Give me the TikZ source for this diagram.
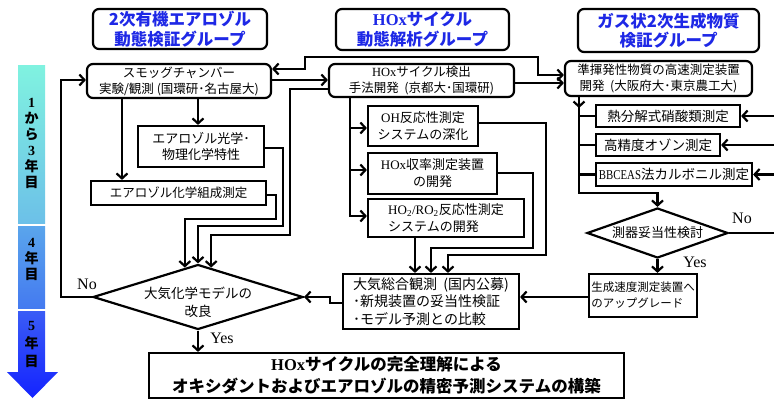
\documentclass[tikz,border=0pt]{standalone}
\usepackage{fontspec}
\setmainfont{Liberation Serif}
\newfontfamily\jp{Noto Sans CJK JP}
\usetikzlibrary{arrows.meta,shapes.geometric,calc}
\definecolor{hblue}{RGB}{30,40,230}
\newcommand\lat[1]{{\rmfamily #1}}
\tikzset{
  fs/.style 2 args={font=\jp\fontsize{#1}{#2}\selectfont},
  bfs/.style 2 args={font=\jp\bfseries\fontsize{#1}{#2}\selectfont},
  base/.style={inner sep=0pt, align=center, fs={12.5}{16}},
  hdr/.style={base, draw, rounded corners=6pt, line width=2.2pt, text=hblue, bfs={16.5}{19.5}},
  rbox/.style={base, draw, rounded corners=6pt, line width=2.2pt},
  sbox/.style={base, draw, line width=2.2pt},
  dia/.style={draw, diamond, line width=2.2pt, inner sep=0pt},
  ln/.style={line width=2.2pt},
  arr/.style={line width=2.2pt, -{Straight Barb[length=5pt,width=11pt]}},
  arrb/.style={line width=2.2pt, {Straight Barb[length=5pt,width=11pt]}-{Straight Barb[length=5pt,width=11pt]}},
  lbl/.style={inner sep=0pt, font=\rmfamily\fontsize{16}{18}\selectfont},
  yr/.style={inner sep=0pt, align=center, bfs={14}{16}},
}
\begin{document}
\begin{tikzpicture}[x=1pt,y=-1pt]
\fill[white] (0,0) rectangle (774,401);
\useasboundingbox (0,0) rectangle (774,401);

% time arrow
\shade[top color={rgb,255:red,128;green,242;blue,224}, bottom color={rgb,255:red,108;green,192;blue,232}] (18,66) rectangle (45,223);
\shade[top color={rgb,255:red,90;green,165;blue,236}, bottom color={rgb,255:red,68;green,122;blue,240}] (18,226) rectangle (45,308);
\shade[top color={rgb,255:red,58;green,92;blue,246}, bottom color={rgb,255:red,20;green,35;blue,255}] (18,311) -- (45,311) -- (45,372) -- (58,372) -- (32.5,398) -- (7,372) -- (18,372) -- cycle;
\node[yr] (t1) at (31.5,143) {\lat{1}\\か\\ら\\\lat{3}\\年\\目};
\node[yr] (t2) at (31.5,259) {\lat{4}\\年\\目};
\node[yr, bfs={14}{18}] (t3) at (31.5,344) {\lat{5}\\年\\目};

% headers
\node[hdr, minimum width=174pt, minimum height=40pt] (g1) at (180,29) {2次有機エアロゾル\\動態検証グループ};
\node[hdr, minimum width=173pt, minimum height=41pt] (g2) at (422.5,29.5) {\lat{HOx}サイクル\\動態解析グループ};
\node[hdr, minimum width=181pt, minimum height=43pt] (g3) at (668.5,30.5) {ガス状2次生成物質\\検証グループ};

% row 1
\node[rbox, minimum width=184pt, minimum height=34pt] (smog) at (179,81) {スモッグチャンバー\\実験/観測 (国環研･名古屋大)};
\node[rbox, minimum width=185pt, minimum height=33pt] (hox) at (421.5,80.5) {\lat{HOx}サイクル検出\\手法開発\ \ (京都大･国環研)};
\node[rbox, minimum width=187pt, minimum height=35pt] (svoc) at (658.5,78.5) {準揮発性物質の高速測定装置\\開発\ \ (大阪府大･東京農工大)};

% column 1
\node[sbox, fs={13}{16}, minimum width=126pt, minimum height=41pt] (opt) at (201,146.5) {エアロゾル光学･\\物理化学特性};
\node[sbox, minimum width=175pt, minimum height=24pt] (comp) at (178.5,193) {エアロゾル化学組成測定};

% column 2
\node[sbox, fs={13}{17}, minimum width=110pt, minimum height=40pt] (oh) at (423,126) {\lat{OH}反応性測定\\システムの深化};
\node[sbox, fs={13}{17}, minimum width=129pt, minimum height=41pt] (yld) at (432.5,173.5) {\lat{HOx}収率測定装置\\の開発};
\node[sbox, fs={13}{17}, align=left, minimum width=156pt, minimum height=38pt] (ho2) at (446,218) {\lat{HO\textsubscript{2}/RO\textsubscript{2}}反応性測定\\システムの開発};
\node[sbox, fs={14}{17.5}, align=left, minimum width=176pt, minimum height=55pt] (obs) at (431,301.5) {大気総合観測\ \ (国内公募)\\･新規装置の妥当性検証\\･モデル予測との比較};

% column 3
\node[sbox, fs={13.5}{16}, minimum width=144pt, minimum height=22pt] (n1) at (668,116) {熱分解式硝酸類測定};
\node[sbox, fs={13.5}{16}, minimum width=124pt, minimum height=22pt] (n2) at (658,145) {高精度オゾン測定};
\node[sbox, fs={13.5}{16}, minimum width=156pt, minimum height=23pt] (n3) at (674,174.5) {\lat{\scalebox{0.8}[1]{BBCEAS}}法カルボニル測定};
\node[dia, minimum width=141pt, minimum height=50pt] (d2) at (657.5,233) {};
\node[base, fs={13}{16}] (d2t) at (d2) {測器妥当性検討};
\node[sbox, fs={11.5}{16}, align=left, minimum width=108pt, minimum height=43pt] (upg) at (643,295.5) {生成速度測定装置へ\\のアップグレード};

% decision 1 and final
\node[dia, minimum width=210pt, minimum height=65pt] (d1) at (198,297) {};
\node[base, fs={13.5}{18}] (d1t) at ($(d1)+(0,5)$) {大気化学モデルの\\改良};
\node[sbox, bfs={16.5}{22}, minimum width=475pt, minimum height=45pt] (fin) at (386.5,375.5) {\lat{HOx}サイクルの完全理解による\\オキシダントおよびエアロゾルの精密予測システムの構築};

\coordinate (rb) at (776,0);

% connectors row 1
\draw[arr] (smog.east |- 0,80) -- (hox.west |- 0,80);
\draw[arr] (hox.east |- 0,83) -- (svoc.west |- 0,83);
\draw[arrb] (smog.east |- 0,69) -- (305,69) -- (305,57) -- (538,57) -- (538,75) -- (svoc.west |- 0,75);

% feedback No
\draw[arr] (d1.west) -| (61,80) -- (smog.west |- 0,80);
\node[lbl] (no1) at (87,284) {No};

% column 1
\draw[arr] (smog.south -| 198,0) -- (opt.north -| 198,0);
\draw[arr] (smog.south -| 122,0) -- (comp.north -| 122,0);
\draw[arr] (comp.east |- 0,195) -| (276,219) -| ($(d1.north)!0.124!(d1.west)$);
\draw[arr] (opt.east |- 0,148) -| (283,226) -| (d1.north);
\draw[arr] (hox.west |- 0,89) -| (290,235) -| ($(d1.north)!0.124!(d1.east)$);

% column 2
\draw[arr] (hox.south -| 350,0) |- (oh.west |- 0,128);
\draw[arr] (hox.south -| 350,0) |- (yld.west |- 0,170);
\draw[arr] (hox.south -| 350,0) |- (ho2.west |- 0,216);
\draw[arr] (oh.east |- 0,123) -| (546,255) -| (obs.north -| 448,0);
\draw[arr] (yld.east |- 0,173) -| (533,248) -| (obs.north -| 431,0);
\draw[arr] (ho2.south -| 415,0) -- (obs.north -| 415,0);
\draw[arr] (obs.west |- 0,303) -| (330,297) -- (d1.east);
\draw[arr] (upg.west |- 0,297) -- (obs.east |- 0,297);

% column 3
\draw[arr] (svoc.south -| 579,0) -- (579,108);
\draw[arr] (svoc.south -| 579,0) |- (d2.north |- 0,193) -- (d2.north);
\draw[ln] (svoc.south -| 579,0) |- (n1.west);
\draw[ln] (svoc.south -| 579,0) |- (n2.west);
\draw[ln] (svoc.south -| 579,0) |- (n3.west);
\draw[arr] (rb |- n1.east) -- (n1.east);
\draw[arr] (rb |- n2.east) -- (n2.east);
\draw[arr] (rb |- n3.east) -- (n3.east);
\draw[ln] (d2.east) -- (rb |- d2.east);
\node[lbl] (no2) at (742,218) {No};
\draw[arr] (d2.south) -- (d2.south |- upg.north);
\node[lbl] (yes2) at (695,262) {Yes};

% final
\draw[arr] (d1.south) -- (fin.north -| d1.south);
\node[lbl] (yes1) at (222,338) {Yes};
\end{tikzpicture}
\end{document}
